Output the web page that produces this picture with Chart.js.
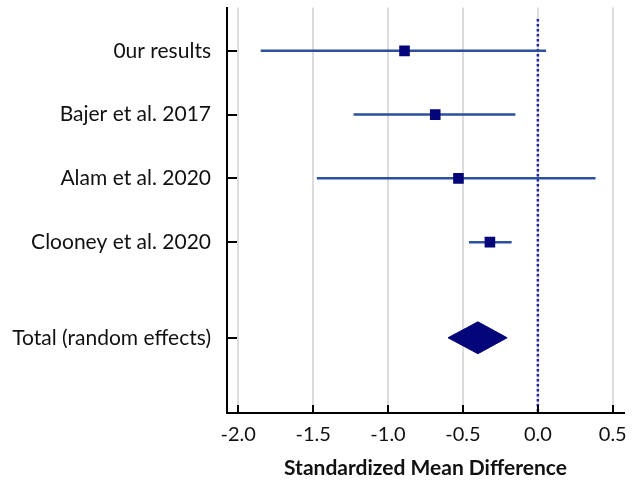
<!DOCTYPE html>
<html>
<head>
    <title>Forest plot - Standardized Mean Difference</title>
    <script src="https://cdn.jsdelivr.net/npm/chart.js@4.4.0/dist/chart.umd.min.js"></script>
    <style>
        body { margin: 0; padding: 0; background: #fff; }
        .chart-box { width: 633px; height: 480px; }
    </style>
</head>
<body>
    <div class="chart-box"><canvas id="forestChart"></canvas></div>

    <script>
        // study rows (top to bottom)
        const studies = ['0ur results', 'Bajer et al. 2017', 'Alam et al. 2020', 'Clooney et al. 2020'];
        const studyRows = [0, 1, 2, 3];
        const estimates = [-0.89, -0.685, -0.53, -0.32];
        const lowerCI = [-1.85, -1.23, -1.475, -0.46];
        const upperCI = [0.055, -0.15, 0.385, -0.175];

        // pooled estimate
        const totalLabel = 'Total (random effects)';
        const totalRow = 4.5;
        const totalEstimate = -0.40;
        const totalLower = -0.60;
        const totalUpper = -0.205;

        const xTicks = [-2.0, -1.5, -1.0, -0.5, 0.0, 0.5];

        const rowLabels = studies.concat([totalLabel]);
        const rowValues = studyRows.concat([totalRow]);

        const lineBlue = '#2c4f9e';
        const navy = '#05057a';
        const diamondHalf = 0.25;

        // CI segments, broken by null points
        const ciData = [];
        studies.forEach((s, i) => {
            ciData.push({ x: lowerCI[i], y: studyRows[i] });
            ciData.push({ x: upperCI[i], y: studyRows[i] });
            ciData.push({ x: null, y: null });
        });

        const diamondData = [
            { x: totalLower, y: totalRow },
            { x: totalEstimate, y: totalRow - diamondHalf },
            { x: totalUpper, y: totalRow },
            { x: totalEstimate, y: totalRow + diamondHalf },
            { x: totalLower, y: totalRow }
        ];

        // inward tick marks on both axes
        const innerTicks = {
            id: 'innerTicks',
            afterDraw(chart) {
                const ctx = chart.ctx;
                const area = chart.chartArea;
                const xs = chart.scales.x, ys = chart.scales.y;
                ctx.save();
                ctx.strokeStyle = '#000';
                ctx.lineWidth = 2;
                ctx.beginPath();
                xTicks.forEach(v => {
                    const px = Math.round(xs.getPixelForValue(v));
                    ctx.moveTo(px, area.bottom);
                    ctx.lineTo(px, area.bottom - 8);
                });
                rowValues.forEach(v => {
                    const py = Math.round(ys.getPixelForValue(v));
                    ctx.moveTo(area.left, py);
                    ctx.lineTo(area.left + 10, py);
                });
                ctx.stroke();
                ctx.restore();
            }
        };

        try {
            new Chart(document.getElementById('forestChart'), {
                type: 'scatter',
                data: {
                    datasets: [
                        {
                            label: 'Studies',
                            data: studies.map((s, i) => ({ x: estimates[i], y: studyRows[i] })),
                            pointStyle: 'rect',
                            pointRadius: 7.5,
                            backgroundColor: navy,
                            borderColor: navy,
                            borderWidth: 0,
                            order: 0
                        },
                        {
                            label: 'Total',
                            type: 'line',
                            data: diamondData,
                            borderColor: navy,
                            backgroundColor: navy,
                            borderWidth: 1,
                            pointRadius: 0,
                            fill: 'shape',
                            tension: 0,
                            order: 1
                        },
                        {
                            label: 'CI',
                            type: 'line',
                            data: ciData,
                            borderColor: lineBlue,
                            borderWidth: 2.5,
                            pointRadius: 0,
                            spanGaps: false,
                            fill: false,
                            order: 2
                        },
                        {
                            label: 'No effect',
                            type: 'line',
                            data: [{ x: 0, y: -0.5 }, { x: 0, y: 6 }],
                            borderColor: '#2323a8',
                            borderWidth: 2.5,
                            borderDash: [2.5, 2.5],
                            pointRadius: 0,
                            fill: false,
                            order: 3
                        }
                    ]
                },
                options: {
                    responsive: true,
                    maintainAspectRatio: false,
                    animation: false,
                    layout: { padding: { top: 4, right: 9, left: 0, bottom: 0 } },
                    plugins: {
                        legend: { display: false },
                        tooltip: { enabled: false }
                    },
                    scales: {
                        x: {
                            type: 'linear',
                            min: -2.075,
                            max: 0.575,
                            afterBuildTicks: scale => { scale.ticks = xTicks.map(v => ({ value: v })); },
                            afterFit: scale => { scale.height = 67; scale.paddingLeft = 0; scale.paddingRight = 0; },
                            grid: { color: '#dcdcdc', lineWidth: 2, drawTicks: false },
                            border: { color: '#000', width: 2 },
                            ticks: {
                                padding: 10,
                                color: '#111',
                                font: { family: 'Lato', size: 20 },
                                callback: v => Number(v).toFixed(1)
                            },
                            title: {
                                display: true,
                                text: 'Standardized Mean Difference',
                                color: '#111',
                                font: { family: 'Lato', size: 21, weight: 'bold' },
                                padding: { top: 2, bottom: -1 }
                            }
                        },
                        y: {
                            type: 'linear',
                            reverse: true,
                            min: -0.68,
                            max: 5.68,
                            afterBuildTicks: scale => { scale.ticks = rowValues.map(v => ({ value: v })); },
                            afterFit: scale => { scale.width = 227; scale.paddingTop = 0; scale.paddingBottom = 0; },
                            grid: { drawOnChartArea: false, drawTicks: false },
                            border: { color: '#000', width: 2 },
                            ticks: {
                                padding: 16,
                                color: '#111',
                                font: { family: 'Lato', size: 21 },
                                callback: v => rowLabels[rowValues.indexOf(v)]
                            }
                        }
                    }
                },
                plugins: [innerTicks]
            });
        } catch (error) {
            console.error('Error rendering chart:', error);
        }
    </script>
</body>
</html>
